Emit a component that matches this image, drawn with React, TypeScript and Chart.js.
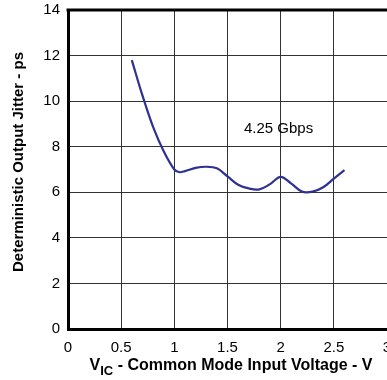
import React, { useEffect, useRef } from "react";
import { Chart, registerables } from "chart.js";

Chart.register(...registerables);

const xValues = [0.6, 0.7, 0.8, 0.9, 1.0, 1.05, 1.1, 1.2, 1.3, 1.4, 1.5, 1.6, 1.7, 1.8, 1.9, 2.0, 2.1, 2.2, 2.3, 2.4, 2.5, 2.6];
const jitterValues = [11.8, 10.25, 8.87, 7.8, 7.0, 6.88, 6.93, 7.07, 7.12, 7.05, 6.7, 6.33, 6.17, 6.13, 6.36, 6.68, 6.38, 6.03, 6.03, 6.22, 6.6, 6.97];
const seriesLabel = "4.25 Gbps";
const labelPos = { x: 1.98, y: 8.77 };
const yTitle = "Deterministic Output Jitter - ps";
const xTitleMain = "V";
const xTitleSub = "IC";
const xTitleRest = " - Common Mode Input Voltage - V";

const FONT = '"Liberation Sans", Arial, sans-serif';

export default function App() {
  const ref = useRef<HTMLCanvasElement | null>(null);
  useEffect(() => {
    const canvas = ref.current;
    if (!canvas) return;
    const deco = {
      id: "deco",
      afterDraw(chart: any) {
        const ctx = chart.ctx;
        const a = chart.chartArea;
        const xs = chart.scales.x;
        const ys = chart.scales.y;
        ctx.save();
        // top border
        ctx.strokeStyle = "#000";
        ctx.lineWidth = 3;
        ctx.beginPath();
        ctx.moveTo(a.left - 1.5, a.top);
        ctx.lineTo(a.right + 2, a.top);
        ctx.stroke();
        ctx.fillStyle = "#000";
        // annotation
        ctx.font = `15px ${FONT}`;
        ctx.textAlign = "center";
        ctx.textBaseline = "middle";
        ctx.fillText(seriesLabel, xs.getPixelForValue(labelPos.x), ys.getPixelForValue(labelPos.y));
        // y title
        ctx.save();
        ctx.translate(19, 162);
        ctx.rotate(-Math.PI / 2);
        ctx.font = `bold 15px ${FONT}`;
        ctx.textAlign = "center";
        ctx.textBaseline = "middle";
        ctx.fillText(yTitle, 0, 0);
        ctx.restore();
        // x title with subscript
        ctx.font = `bold 16px ${FONT}`;
        const w1 = ctx.measureText(xTitleMain).width;
        const w3 = ctx.measureText(xTitleRest).width;
        ctx.font = `bold 13px ${FONT}`;
        const w2 = ctx.measureText(xTitleSub).width;
        const total = w1 + w2 + w3;
        const x0 = 231 - total / 2;
        const yb = 370;
        ctx.textAlign = "left";
        ctx.textBaseline = "alphabetic";
        ctx.font = `bold 16px ${FONT}`;
        ctx.fillText(xTitleMain, x0, yb);
        ctx.font = `bold 13px ${FONT}`;
        ctx.fillText(xTitleSub, x0 + w1, yb + 5);
        ctx.font = `bold 16px ${FONT}`;
        ctx.fillText(xTitleRest, x0 + w1 + w2, yb);
        ctx.restore();
      },
    };
    const chart = new Chart(canvas, {
      type: "line",
      data: {
        datasets: [
          {
            label: seriesLabel,
            data: xValues.map((x, i) => ({ x, y: jitterValues[i] })),
            borderColor: "#2e3192",
            borderWidth: 2.2,
            tension: 0.35,
            pointRadius: 0,
            fill: false,
          },
        ],
      },
      options: {
        animation: false,
        responsive: false,
        devicePixelRatio: 1,
        layout: { padding: { left: 0, top: 10, right: 13, bottom: 0 } },
        plugins: { legend: { display: false }, tooltip: { enabled: false } },
        scales: {
          x: {
            type: "linear",
            min: 0,
            max: 3,
            afterFit: (s: any) => {
              s.height = 51;
              s.paddingLeft = 0;
              s.paddingRight = 0;
            },
            ticks: {
              stepSize: 0.5,
              color: "#000",
              font: { family: FONT, size: 15 },
              padding: 10,
              maxRotation: 0,
              autoSkip: false,
              callback: (v: any) => `${+v}`,
            },
            grid: { color: "#333", lineWidth: 1, drawTicks: false },
            border: { display: true, color: "#000", width: 3 },
          },
          y: {
            min: 0,
            max: 14,
            afterFit: (s: any) => {
              s.width = 68;
              s.paddingTop = 0;
              s.paddingBottom = 0;
            },
            ticks: {
              stepSize: 2,
              color: "#000",
              font: { family: FONT, size: 15 },
              padding: 8,
              callback: (v: any) => `${+v}`,
            },
            grid: { color: "#333", lineWidth: 1, drawTicks: false },
            border: { display: true, color: "#000", width: 3 },
          },
        },
      },
      plugins: [deco],
    } as any);
    return () => chart.destroy();
  }, []);
  return (
    <div style={{ position: "fixed", left: 0, top: 0, width: 400, height: 380 }}>
      <canvas ref={ref} width={400} height={380} style={{ width: 400, height: 380, display: "block" }} />
    </div>
  );
}
